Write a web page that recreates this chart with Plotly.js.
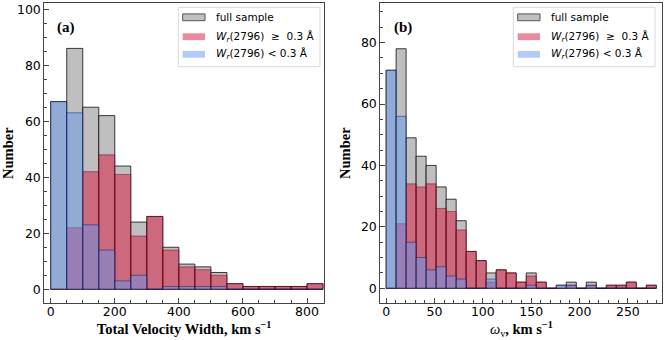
<!DOCTYPE html>
<html>
<head>
<meta charset="utf-8">
<script src="https://cdn.plot.ly/plotly-3.0.1.min.js"></script>
<style>
  body { margin: 0; background: #fff; }
  #chart { width: 664px; height: 340px; }
</style>
</head>
<body>
<div id="chart"></div>
<script>
// panel (a): total velocity width, bins of 50 km/s starting at 0
var binWidthA = 50
var fullA = [67, 86, 65, 62, 44, 24, 26, 15, 9, 8, 6, 2, 1, 1, 1, 1, 2]
var strongA = [0, 22, 42, 48, 41, 19, 26, 14, 8, 7, 5, 2, 1, 1, 1, 1, 2]
var weakA = [67, 63, 23, 14, 3, 5, 0, 1, 1, 1, 1, 0, 0, 0, 0, 0, 0]

// panel (b): omega_v, 27 bins between 0 and ~279 km/s
var binWidthB = 10.35
var fullB = [71, 78, 49, 43, 40, 33, 29, 22, 12, 9, 5, 6, 5, 2, 5, 2, 0, 1, 2, 0, 2, 0, 1, 1, 2, 0, 1]
var strongB = [0, 21, 34, 33, 34, 26, 25, 19, 12, 9, 2, 6, 5, 2, 4, 2, 0, 0, 1, 0, 1, 0, 1, 1, 2, 0, 1]
var weakB = [71, 56, 15, 10, 6, 7, 4, 3, 0, 0, 3, 0, 0, 0, 1, 0, 0, 1, 1, 0, 1, 0, 0, 0, 0, 0, 0]

var legendNames = ['full sample',
  '<i>W</i><sub><i>r</i></sub>(2796)  \u2265  0.3 \u00c5',
  '<i>W</i><sub><i>r</i></sub>(2796) < 0.3 \u00c5']

var grayFill = '#bfbfbf'
var redFill = 'rgba(220,20,60,0.5)'
var blueFill = 'rgba(100,149,237,0.5)'

function centers(arr, w) {
  return arr.map(function (_, i) { return (i + 0.5) * w })
}

function bars(vals, w, fill, edge, xa, ya) {
  return {
    type: 'bar', x: centers(vals, w), y: vals, width: w,
    xaxis: xa, yaxis: ya, showlegend: false,
    marker: { color: fill, line: { color: edge, width: 1 } },
    hoverinfo: 'x+y'
  }
}

var data = [
  bars(fullA, binWidthA, grayFill, 'rgba(0,0,0,0.75)', 'x', 'y'),
  bars(strongA, binWidthA, redFill, 'rgba(90,0,20,0.45)', 'x', 'y'),
  bars(weakA, binWidthA, blueFill, 'rgba(0,20,90,0.45)', 'x', 'y'),
  bars(fullB, binWidthB, grayFill, 'rgba(0,0,0,0.75)', 'x2', 'y2'),
  bars(strongB, binWidthB, redFill, 'rgba(90,0,20,0.45)', 'x2', 'y2'),
  bars(weakB, binWidthB, blueFill, 'rgba(0,20,90,0.45)', 'x2', 'y2')
]

var W = 664, H = 340
function px(x) { return x / W }
function py(y) { return 1 - y / H }

var tickFont = { family: 'DejaVu Sans', size: 12.5, color: '#000' }
var titleFont = { family: 'Liberation Serif', size: 14.5, color: '#000' }

function axisBase(extra) {
  var a = {
    showline: true, mirror: true, linecolor: '#444', linewidth: 1,
    ticks: 'inside', ticklen: 5, tickwidth: 1, tickcolor: '#444',
    showgrid: false, zeroline: false, tickfont: tickFont
  }
  for (var k in extra) a[k] = extra[k]
  return a
}

function minorTicks(step) {
  return { ticks: 'inside', ticklen: 3, tickwidth: 1, tickcolor: '#444', dtick: step, showgrid: false }
}

var shapes = []
var annotations = []

// matplotlib style legend box drawn by hand
function addLegend(x0) {
  shapes.push({ type: 'rect', xref: 'paper', yref: 'paper',
    x0: px(x0), x1: px(x0 + 141.7), y0: py(66.7), y1: py(7.3),
    line: { color: '#d9d9d9', width: 1 }, fillcolor: 'rgba(255,255,255,0.85)', layer: 'above' })
  var rows = [17.3, 36.7, 54.3]
  var fills = [grayFill, redFill, blueFill]
  var edges = ['#555', 'rgba(0,0,0,0)', 'rgba(0,0,0,0)']
  for (var i = 0; i < 3; i++) {
    shapes.push({ type: 'rect', xref: 'paper', yref: 'paper',
      x0: px(x0 + 4.4), x1: px(x0 + 26.7), y0: py(rows[i] + 3.4), y1: py(rows[i] - 3.4),
      line: { color: edges[i], width: 1 }, fillcolor: fills[i], layer: 'above' })
    annotations.push({ xref: 'paper', yref: 'paper', x: px(x0 + 35.5), y: py(rows[i]),
      xanchor: 'left', yanchor: 'middle', showarrow: false, text: legendNames[i],
      font: { family: 'DejaVu Sans', size: 10.5, color: '#000' } })
  }
}
addLegend(178.3)
addLegend(513.3)

annotations.push({ xref: 'paper', yref: 'paper', x: px(66), y: py(27.7), showarrow: false,
  xanchor: 'center', yanchor: 'middle',
  text: '<b>(a)</b>', font: { family: 'Liberation Serif', size: 15, color: '#000' } })
annotations.push({ xref: 'paper', yref: 'paper', x: px(402.5), y: py(27.7), showarrow: false,
  xanchor: 'center', yanchor: 'middle',
  text: '<b>(b)</b>', font: { family: 'Liberation Serif', size: 15, color: '#000' } })

var yDomain = [py(303), py(3.3)]

var layout = {
  width: W, height: H,
  margin: { l: 0, r: 0, t: 0, b: 0 },
  paper_bgcolor: '#fff', plot_bgcolor: '#fff',
  barmode: 'overlay', bargap: 0,
  showlegend: false,
  xaxis: axisBase({ domain: [px(44.3), px(324)], range: [-20, 853], dtick: 200,
    minor: minorTicks(50), ticklabelstandoff: -3,
    title: { text: '<b>Total Velocity Width, km s<sup>\u22121</sup></b>', font: titleFont, standoff: 2 },
    anchor: 'y' }),
  yaxis: axisBase({ domain: yDomain, range: [-4.9, 102.1], dtick: 20,
    minor: minorTicks(5),
    title: { text: '<b>Number</b>', font: titleFont, standoff: 6 },
    anchor: 'x' }),
  xaxis2: axisBase({ domain: [px(380.3), px(662.3)], range: [-6, 285.6], dtick: 50,
    minor: minorTicks(10), ticklabelstandoff: -3,
    title: { text: '<i>\u03c9</i><sub>v</sub><b>, km s<sup>\u22121</sup></b>', font: titleFont, standoff: 2 },
    anchor: 'y2' }),
  yaxis2: axisBase({ domain: yDomain, range: [-4.8, 92.8], dtick: 20,
    minor: minorTicks(5),
    title: { text: '<b>Number</b>', font: titleFont, standoff: 6 },
    anchor: 'x2' }),
  shapes: shapes,
  annotations: annotations
}

Plotly.newPlot('chart', data, layout, { displayModeBar: false, staticPlot: true })
</script>
</body>
</html>
